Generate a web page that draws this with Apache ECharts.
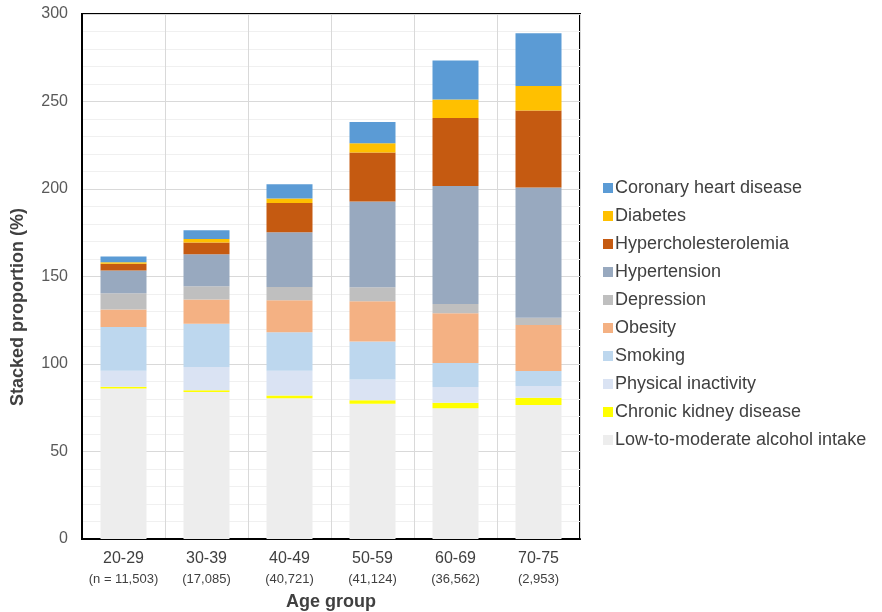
<!DOCTYPE html>
<html>
<head>
<meta charset="utf-8">
<script src="https://cdn.jsdelivr.net/npm/echarts@6/dist/echarts.min.js"></script>
<style>html,body{margin:0;padding:0;background:#fff}#c{width:882px;height:612px}</style>
</head>
<body>
<div id="c"></div>
<script>
const ageGroups = ['20-29', '30-39', '40-49', '50-59', '60-69', '70-75'];
const sampleSizes = ['(n = 11,503)', '(17,085)', '(40,721)', '(41,124)', '(36,562)', '(2,953)'];
const yTicks = [0, 50, 100, 150, 200, 250, 300];

const alcohol      = [86.0, 84.0, 80.5, 77.3, 74.7, 76.6];
const kidney       = [1.0, 1.0, 1.5, 2.0, 3.2, 4.1];
const inactivity   = [9.2, 13.3, 14.2, 11.9, 9.0, 6.7];
const smoking      = [24.9, 24.7, 21.9, 21.6, 13.7, 8.6];
const obesity      = [10.1, 13.8, 18.3, 23.0, 28.4, 26.3];
const depression   = [9.2, 7.6, 7.6, 8.0, 5.3, 4.2];
const hypertension = [13.1, 18.3, 31.3, 49.0, 67.4, 74.3];
const hyperchol    = [3.8, 6.8, 16.7, 28.0, 38.9, 44.0];
const diabetes     = [0.8, 1.9, 2.6, 5.3, 10.6, 14.1];
const chd          = [3.4, 5.0, 8.1, 12.2, 22.3, 30.1];

const seriesDefs = [
  ['Low-to-moderate alcohol intake', alcohol, '#EDEDED'],
  ['Chronic kidney disease', kidney, '#FFFF00'],
  ['Physical inactivity', inactivity, '#DAE3F3'],
  ['Smoking', smoking, '#BDD7EE'],
  ['Obesity', obesity, '#F4B183'],
  ['Depression', depression, '#BFBFBF'],
  ['Hypertension', hypertension, '#98A9BF'],
  ['Hypercholesterolemia', hyperchol, '#C55A11'],
  ['Diabetes', diabetes, '#FFC000'],
  ['Coronary heart disease', chd, '#5B9BD5']
];

const chart = echarts.init(document.getElementById('c'), null, {renderer: 'canvas'});
chart.setOption({
  animation: false,
  backgroundColor: '#fff',
  textStyle: {fontFamily: 'Liberation Sans, Arial, sans-serif'},
  grid: {left: 82, right: 302, top: 14, bottom: 73, outerBoundsMode: 'none', containLabel: false,
         show: true, borderColor: '#000', borderWidth: 2, backgroundColor: 'transparent'},
  legend: {
    orient: 'vertical', left: 598, top: 173,
    itemWidth: 10, itemHeight: 10, itemGap: 8,
    icon: 'rect',
    data: seriesDefs.map(d => d[0]).reverse(),
    textStyle: {fontSize: 18, color: '#404040', lineHeight: 20, padding: [0, 0, 0, -3]}
  },
  xAxis: {
    type: 'category', data: ageGroups,
    name: 'Age group', nameLocation: 'middle', nameGap: 54,
    nameTextStyle: {fontSize: 18, fontWeight: 'bold', color: '#404040'},
    axisLine: {show: true, lineStyle: {color: '#000', width: 2}},
    axisTick: {show: false},
    splitLine: {show: true, lineStyle: {color: '#d9d9d9', width: 1}},
    axisLabel: {
      margin: 10, interval: 0,
      formatter: (v, i) => '{a|' + v + '}\n{b|' + sampleSizes[i] + '}',
      rich: {
        a: {fontSize: 16, color: '#404040', lineHeight: 20},
        b: {fontSize: 13, color: '#404040', lineHeight: 20}
      }
    }
  },
  yAxis: {
    type: 'value', min: 0, max: 300, interval: 50,
    name: 'Stacked proportion (%)', nameLocation: 'middle', nameGap: 55,
    nameTextStyle: {fontSize: 18, fontWeight: 'bold', color: '#404040', padding: [0, 61, 0, 0]},
    axisLine: {show: true, lineStyle: {color: '#000', width: 2}},
    axisTick: {show: false},
    axisLabel: {fontSize: 16, color: '#595959', margin: 14, formatter: v => yTicks.includes(v) ? String(v) : ''},
    splitLine: {show: true, lineStyle: {color: '#d9d9d9', width: 1}},
    minorTick: {show: false, splitNumber: 5},
    minorSplitLine: {show: true, lineStyle: {color: '#f0f0f0', width: 1}}
  },
  series: seriesDefs.map(d => ({
    name: d[0], type: 'bar', stack: 'total', data: d[1], barWidth: 46,
    itemStyle: {color: d[2]}
  }))
});
</script>
</body>
</html>
